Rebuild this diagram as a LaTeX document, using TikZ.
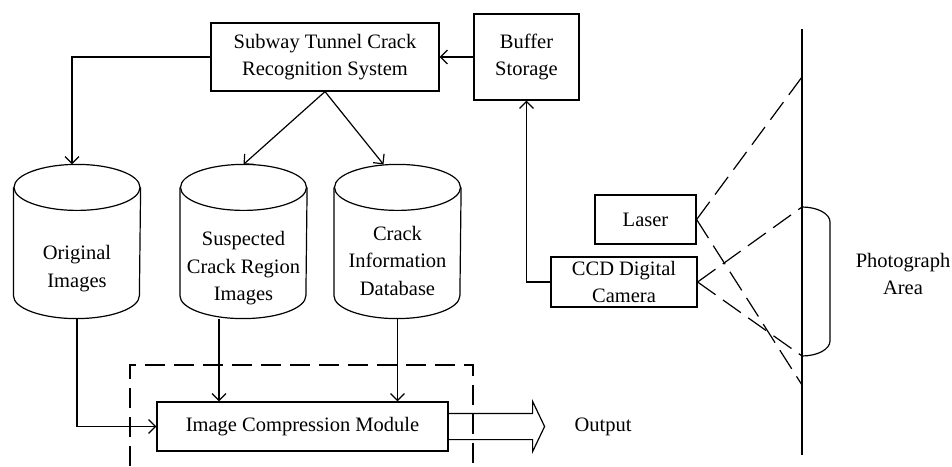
\documentclass[tikz,border=0pt]{standalone}
\usepackage{fontspec}
\setmainfont{Liberation Serif}
\usetikzlibrary{arrows.meta,positioning,calc}

\tikzset{
  box/.style={draw, line width=1.2pt, align=center, inner sep=0pt},
  dbshell/.style={minimum width=126pt, minimum height=153pt, inner sep=0pt},
  dbtext/.style={align=center, inner sep=0pt},
  arr/.style={line width=1.2pt, -{Straight Barb[length=7pt,width=14pt,line width=1.2pt]}},
  ray/.style={line width=1.2pt, dash pattern=on 22pt off 9pt},
}
% outline of a database cylinder round a node
\newcommand{\dbshape}[1]{%
  \draw ($(#1.north)+(0,-23)$) ellipse [x radius=63, y radius=23];
  \draw ($(#1.north west)+(0,-23)$) -- ($(#1.south west)+(0,23)$)
    arc [start angle=180, end angle=360, x radius=63, y radius=23]
    -- ($(#1.north east)+(0,-23)$);
}

\begin{document}
\begin{tikzpicture}[x=1pt, y=1pt, line width=1.2pt, font=\fontsize{20.5}{27.5}\selectfont]
\useasboundingbox (0,0) rectangle (952,466);

% Top row
\node[box, minimum width=228pt, minimum height=68pt] (sys) at (325,409) {Subway Tunnel Crack\\Recognition System};
\node[box, minimum width=105pt, minimum height=86pt] (buf) at (526.5,409) {Buffer\\Storage};

% Databases
\node[dbshell] (orig) at (77,224.5) {};
\node[dbshell] (susp) at (243.5,224.5) {};
\node[dbshell] (crack) at (397.5,224.5) {};
\dbshape{orig}
\dbshape{susp}
\dbshape{crack}
\node[dbtext] (origtxt) at ($(orig.center)+(0,-27)$) {Original\\Images};
\node[dbtext] (susptxt) at ($(susp.center)+(0,-27)$) {Suspected\\Crack Region\\Images};
\node[dbtext] (cracktxt) at ($(crack.center)+(0,-19)$) {Crack\\Information\\Database};

% Compression module
\node[box, minimum width=291pt, minimum height=49pt] (icm) at (302.5,39.5) {Image Compression Module};
\draw[dash pattern=on 20pt off 9pt] (130,0) -- (130,101) -- (473,101) -- (473,0);

% Output arrow
\draw[line join=miter] ($(icm.north east)+(0,-12)$) -- ++(84,0) -- ++(0,12)
  -- ($(icm.east)+(96,0)$) -- ($(icm.south east)+(84,0)$) -- ++(0,12)
  -- ($(icm.south east)+(0,12)$);
\node[anchor=west] (out) at ($(icm.east)+(122,0)$) {Output};

% Laser and camera
\node[box, minimum width=101pt, minimum height=49pt] (laser) at (645.5,246.5) {Laser};
\node[box, minimum width=146pt, minimum height=50pt] (ccd) at (624,184) {CCD Digital\\Camera};

% Tunnel wall and photograph area
\coordinate (wtop) at (802,437);
\coordinate (wbot) at (802,11);
\coordinate (ltop) at (802,389);
\coordinate (lbot) at (802,81);
\coordinate (atop) at (802,259);
\coordinate (abot) at (802,110);
\draw (wtop) -- (wbot);
\draw (atop) arc [start angle=90, end angle=0, x radius=28, y radius=15]
  -- (830,125) arc [start angle=0, end angle=-90, x radius=28, y radius=15];
\node[align=center] (area) at (903,192) {Photograph\\Area};

\draw[ray] (laser.east) -- (ltop);
\draw[ray] (laser.east) -- (lbot);
\draw[ray] (ccd.east) -- (atop);
\draw[ray] (ccd.east) -- (abot);

% Connectors
\draw[arr] (buf.west) -- (sys.east);
\draw[arr] (ccd.west) -| (buf.south);
\draw[arr] (sys.west) -| ($(orig.north)+(-5,0)$);
\draw[arr] (sys.south) -- (susp.north);
\draw[arr] (sys.south) -- ($(crack.north)+(-14,0)$);
\draw[arr] (orig.south) |- (icm.west);
\draw[arr] (susp.south -| 219,0) -- (icm.north -| 219,0);
\draw[arr] (crack.south) -- (crack.south |- icm.north);
\end{tikzpicture}
\end{document}
